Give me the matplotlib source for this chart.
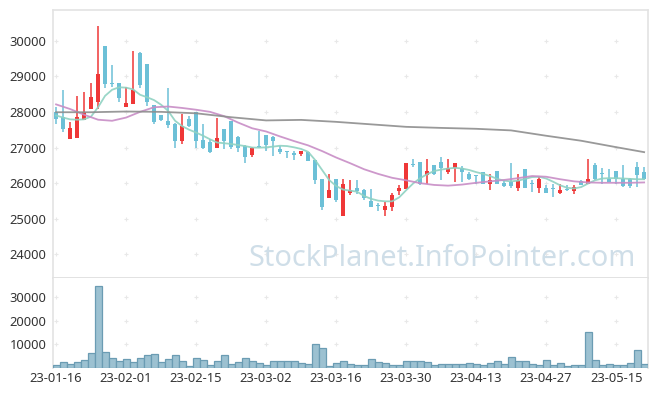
import numpy as np
import matplotlib
matplotlib.use('Agg')
import matplotlib.pyplot as plt

plt.rcParams['font.family'] = ['Noto Sans', 'DejaVu Sans']

# daily OHLC (KRW), 85 trading days from 23-01-16 to 23-05-19
opens = [28000, 27870, 27250, 27280, 27780, 28090, 28280, 29860, 28820, 28810,
         28150, 28230, 29650, 29350, 28180, 27910, 27740, 27660, 27190, 27800,
         27990, 27200, 27150, 27000, 27510, 27740, 27300, 27050, 26800, 27040,
         27350, 27300, 26960, 26900, 26850, 26830, 26860, 26650, 26110, 25590,
         26110, 25090, 25730, 25850, 25800, 25500, 25370, 25260, 25340, 25780,
         25840, 26540, 26590, 26230, 26510, 26590, 26300, 26430, 26430, 26250,
         26220, 26300, 25990, 26340, 26010, 26020, 25870, 26390, 26000, 25850,
         25850, 25850, 25730, 25820, 25790, 26060, 25990, 26510, 26280, 26130,
         26340, 26130, 26130, 26460, 26320]
highs = [28150, 28600, 27710, 28450, 28560, 28800, 30410, 29860, 29320, 28820,
         28700, 29700, 29690, 29350, 28200, 27920, 28680, 27680, 27940, 27890,
         28000, 27650, 27230, 27840, 27520, 27750, 27310, 27060, 27010, 27460,
         27360, 27310, 27030, 26910, 26910, 26910, 26870, 26660, 26120, 26250,
         26120, 26110, 26100, 26100, 25840, 25840, 25430, 25460, 25710, 25960,
         26570, 26670, 26600, 26690, 26520, 26720, 26690, 26570, 26480, 26320,
         26230, 26320, 26270, 26350, 26090, 26560, 26250, 26400, 26090, 26160,
         25950, 25990, 25990, 25960, 25950, 26080, 26690, 26560, 26420, 26410,
         26350, 26510, 26140, 26580, 26460]
lows = [27660, 27440, 27240, 27270, 27770, 28080, 28090, 28680, 28700, 28290,
        28140, 28220, 28660, 28170, 27660, 27740, 27560, 27000, 27090, 27580,
        27000, 26950, 26840, 26990, 26950, 26960, 26880, 26560, 26740, 26980,
        26900, 26750, 26820, 26710, 26650, 26760, 26620, 25990, 25240, 25580,
        25480, 25080, 25660, 25690, 25520, 25330, 25220, 25080, 25220, 25680,
        25830, 26450, 25950, 25990, 26230, 26100, 26270, 26040, 26040, 26100,
        25970, 25990, 25810, 25970, 25900, 25850, 25780, 25850, 25760, 25730,
        25730, 25620, 25690, 25780, 25690, 25940, 25980, 26090, 25990, 26020,
        25990, 25900, 25850, 25900, 26100]
closes = [27790, 27530, 27550, 27860, 28000, 28420, 29060, 28790, 28790, 28400,
          28250, 28600, 28740, 28290, 27710, 27780, 27640, 27190, 27600, 27590,
          27190, 27000, 26880, 27260, 27190, 27010, 27000, 26740, 27000, 27010,
          27070, 27190, 26870, 26870, 26800, 26900, 26630, 26100, 25340, 25810,
          25530, 25990, 25810, 25780, 25580, 25340, 25350, 25360, 25660, 25870,
          26560, 26520, 25980, 26340, 26270, 26430, 26430, 26560, 26320, 26130,
          26200, 25990, 26100, 25990, 25930, 25930, 26060, 25860, 25980, 26130,
          25730, 25830, 25810, 25800, 25900, 25950, 26130, 26130, 26260, 26040,
          26130, 25930, 25930, 26230, 26130]
volumes = [1000, 2330, 1480, 2330, 3190, 6160, 34670, 6590, 4320, 2760,
           3610, 2330, 4040, 5310, 5740, 2330, 3610, 5310, 2760, 640,
           4040, 3190, 1000, 2760, 5310, 1480, 2330, 4040, 2760, 1910,
           1000, 2760, 2760, 2760, 2760, 1910, 1480, 10000, 8290, 640,
           1910, 2760, 1480, 1000, 1000, 3610, 2330, 1910, 1000, 1000,
           2760, 2760, 2760, 2330, 1000, 1480, 1480, 1480, 1480, 1910,
           1480, 1000, 1910, 2760, 1480, 4460, 2760, 2760, 1480, 1000,
           3190, 1000, 1910, 640, 1000, 1000, 15100, 3190, 1000, 1480,
           1000, 1000, 1910, 7440, 1480]

# moving averages
ma_short = [27900, 27840, 27790, 27780, 27790, 27870, 28130, 28450, 28620, 28690,
            28680, 28630, 28480, 28410, 28330, 28200, 28030, 27750, 27600, 27500,
            27420, 27330, 27230, 27140, 27120, 27100, 27070, 27040, 27000, 26995,
            27005, 27025, 27050, 27040, 27005, 26960, 26880, 26650, 26370, 26090,
            25920, 25820, 25790, 25760, 25640, 25560, 25510, 25490, 25490, 25600,
            25800, 25990, 26140, 26250, 26340, 26380, 26410, 26430, 26410, 26370,
            26310, 26260, 26200, 26120, 26070, 26050, 26070, 26120, 26170, 26180,
            26130, 26040, 25940, 25870, 25850, 25890, 25990, 26080, 26130, 26140,
            26140, 26130, 26120, 26110, 26110]
ma_mid_idx = list(range(0, 85, 2))
ma_mid = [28210, 28080, 27920, 27780, 27750, 27840, 28000, 28130, 28150, 28110,
          28060, 28000, 27880, 27700, 27540, 27450, 27310, 27180, 27060, 26900,
          26720, 26560, 26390, 26260, 26150, 26080, 26000, 25950, 25930, 25960,
          26010, 26050, 26090, 26140, 26200, 26180, 26110, 26050, 26020, 26010,
          26010, 26010, 26020]
ma_long_idx = [0, 5, 10, 15, 20, 25, 30, 35, 40, 45, 50, 55, 60, 65, 70, 75, 80, 84]
ma_long = [27990, 27990, 28010, 28000, 27960, 27850, 27760, 27775, 27720, 27650,
           27580, 27550, 27525, 27480, 27330, 27190, 27010, 26870]

date_labels = ['23-01-16', '23-02-01', '23-02-15', '23-03-02', '23-03-16',
               '23-03-30', '23-04-13', '23-04-27', '23-05-15']
price_ticks = [24000, 25000, 26000, 27000, 28000, 29000, 30000]
vol_ticks = [10000, 20000, 30000]

UP = '#ef3737'
DOWN = '#6cc0d7'
FRAME = '#e3e3e3'
TXT = '#333333'

x = np.arange(len(opens))
xt = np.arange(0, len(opens), 10)

fig = plt.figure(figsize=(6.57, 3.96), dpi=100)
ax = fig.add_axes([0.0811, 0.2972, 0.9057, 0.6768])
axv = fig.add_axes([0.0811, 0.0712, 0.9057, 0.2260])

o = np.array(opens)
c = np.array(closes)
up = c >= o
cols = np.where(up, UP, DOWN)

ax.vlines(x, lows, highs, colors=cols, linewidth=1.1, zorder=3)
body = np.maximum(np.abs(c - o), 25)
ax.bar(x, body, bottom=np.minimum(o, c), width=0.66, color=cols, zorder=3)

ax.plot(x, ma_short, color='#8fd2c2', lw=1.3, alpha=0.9, zorder=4)
ax.plot(ma_mid_idx, ma_mid, color='#c88dc6', lw=1.3, alpha=0.9, zorder=4)
ax.plot(ma_long_idx, ma_long, color='#8e8e8e', lw=1.3, alpha=0.9, zorder=4)

axv.bar(x, volumes, width=1.0, color='#9cc1d1', edgecolor='#6b9cb3', linewidth=0.9, zorder=3)

# "+" grid marks
gx, gy = np.meshgrid(xt, price_ticks)
ax.scatter(gx.ravel(), gy.ravel(), marker='+', s=12, color='#e8e8e8', linewidths=0.8, zorder=1)
gx, gy = np.meshgrid(xt, vol_ticks)
axv.scatter(gx.ravel(), gy.ravel(), marker='+', s=12, color='#e8e8e8', linewidths=0.8, zorder=1)

for a in (ax, axv):
    a.set_xlim(-0.4, 84.6)
    for s in a.spines.values():
        s.set_color(FRAME)
        s.set_linewidth(1.2)
    a.tick_params(length=0, labelsize=9.3, labelcolor=TXT, pad=5)

ax.set_ylim(23330, 30850)
ax.set_yticks(price_ticks)
ax.set_xticks([])
ax.spines['bottom'].set_color('#dddddd')

axv.set_ylim(0, 38000)
axv.set_yticks(vol_ticks)
axv.spines['top'].set_visible(False)
axv.spines['bottom'].set_visible(False)
axv.set_xticks(xt)
axv.set_xticklabels(date_labels)
axv.tick_params(axis='x', pad=3)

fig.text(0.968, 0.329, 'StockPlanet.InfoPointer.com', ha='right', va='baseline',
         fontsize=20.8, color='#cfdee8', zorder=0)

fig.savefig('out.png', dpi=100)
